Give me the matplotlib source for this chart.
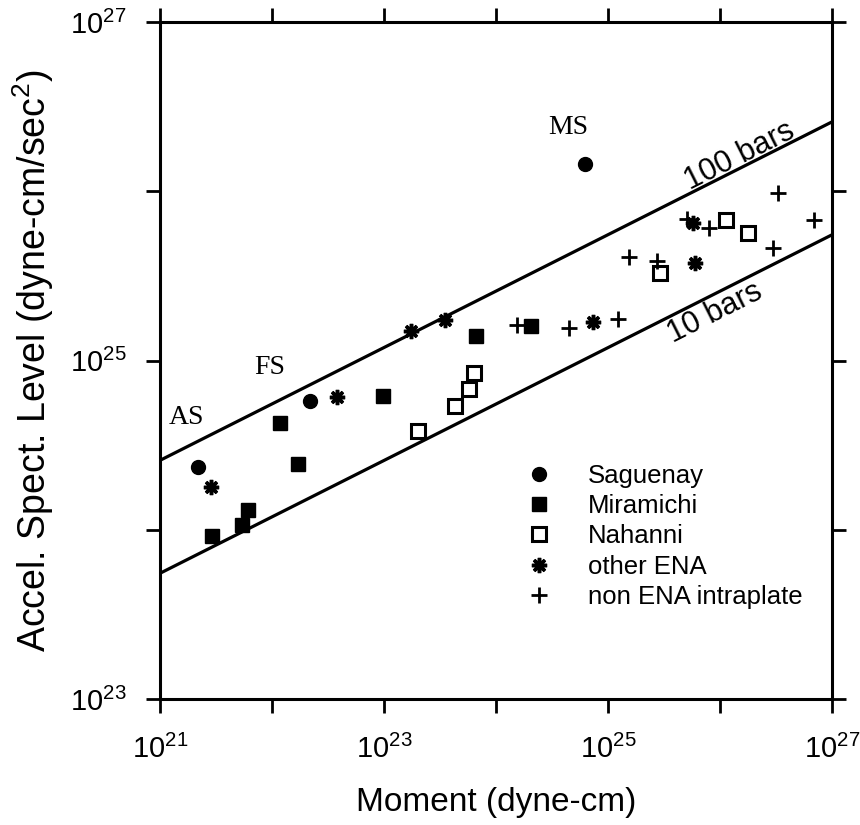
import matplotlib
matplotlib.use("Agg")
import matplotlib.pyplot as plt
from matplotlib.ticker import FixedLocator, FuncFormatter
import math

plt.rcParams['font.family'] = ['Liberation Sans', 'DejaVu Sans']
plt.rcParams['mathtext.fontset'] = 'custom'
plt.rcParams['mathtext.rm'] = 'Liberation Sans'
plt.rcParams['mathtext.it'] = 'Liberation Sans:italic'

# data (moment in dyne-cm, acceleration spectral level in dyne-cm/sec^2)
saguenay_M = [2.18e21, 2.18e22, 6.24e24]
saguenay_A = [2.35e24, 5.77e24, 1.45e26]

miramichi_M = [2.91e21, 5.40e21, 6.11e21, 1.18e22, 1.71e22, 9.79e22, 6.62e23, 2.06e24]
miramichi_A = [9.18e23, 1.07e24, 1.31e24, 4.28e24, 2.45e24, 6.17e24, 1.40e25, 1.60e25]

nahanni_M = [2.01e23, 4.31e23, 5.74e23, 6.37e23, 2.91e25, 1.13e26, 1.78e26]
nahanni_A = [3.83e24, 5.38e24, 6.79e24, 8.43e24, 3.29e25, 6.76e25, 5.66e25]

ena_M = [2.85e21, 3.80e22, 1.74e23, 3.51e23, 7.35e24, 5.98e25, 5.74e25]
ena_A = [1.79e24, 6.08e24, 1.49e25, 1.73e25, 1.69e25, 3.77e25, 6.49e25]

intra_M = [1.54e24, 4.49e24, 1.23e25, 1.54e25, 2.74e25, 5.07e25, 7.98e25, 3.30e26, 2.97e26, 6.90e26]
intra_A = [1.62e25, 1.56e25, 1.76e25, 4.09e25, 3.87e25, 6.85e25, 6.07e25, 9.77e25, 4.62e25, 6.76e25]

# constant stress-drop lines
line_M = [1e21, 1e27]
bars100_A = [2.57e24, 2.57e26]
bars10_A = [5.53e23, 5.53e25]

fig = plt.figure(figsize=(8.6, 8.25), dpi=100)
ax = fig.add_axes([160/860, 1-699/825, 672/860, 677/825])
ax.set_xscale('log')
ax.set_yscale('log')
ax.set_xlim(1e21, 1e27)
ax.set_ylim(1e23, 1e27)

ax.plot(line_M, bars100_A, color='black', lw=2.3)
ax.plot(line_M, bars10_A, color='black', lw=2.3)

ax.plot(saguenay_M, saguenay_A, 'o', color='black', ms=10, ls='none', label='Saguenay')
ax.plot(miramichi_M, miramichi_A, 's', color='black', ms=10, ls='none', label='Miramichi')
ax.plot(nahanni_M, nahanni_A, 's', mfc='white', mec='black', mew=2.2, ms=9.5, ls='none', label='Nahanni')
ax.plot(ena_M, ena_A, marker=(8, 2, 0), color='black', mew=2.5, ms=11, ls='none', label='other ENA')
ax.plot(intra_M, intra_A, '+', color='black', mew=2, ms=12, ls='none', label='non ENA intraplate')

serif = ['Liberation Serif', 'DejaVu Serif']
ax.text(1.71e21, 4.6e24, 'AS', family=serif, fontsize=20, ha='center', va='center')
ax.text(9.6e21, 9.1e24, 'FS', family=serif, fontsize=20, ha='center', va='center')
ax.text(4.4e24, 2.37e26, 'MS', family=serif, fontsize=20, ha='center', va='center')

ax.text(1.5e26, 1.62e26, '100 bars', fontsize=22, rotation=26.7, ha='center', va='center',
        rotation_mode='anchor')
ax.text(9.0e25, 1.9e25, '10 bars', fontsize=22, rotation=26.7, ha='center', va='center',
        rotation_mode='anchor')

ax.xaxis.set_major_locator(FixedLocator([10.0**k for k in range(21, 28)]))
ax.yaxis.set_major_locator(FixedLocator([10.0**k for k in range(23, 28)]))
ax.xaxis.set_minor_locator(FixedLocator([]))
ax.yaxis.set_minor_locator(FixedLocator([]))

def fmt(v, pos):
    e = int(round(math.log10(v)))
    if e % 2 == 0:
        return ''
    return r'$10^{%d}$' % e

ax.xaxis.set_major_formatter(FuncFormatter(fmt))
ax.yaxis.set_major_formatter(FuncFormatter(fmt))
ax.tick_params(which='both', direction='out', length=10, width=2, labelsize=21,
               top=True, right=True)
ax.tick_params(axis='x', pad=16)
ax.tick_params(axis='y', pad=14)
for s in ax.spines.values():
    s.set_linewidth(2.2)

ax.set_xlabel('Moment (dyne-cm)', fontsize=24, labelpad=16)
ax.set_ylabel(r'Accel. Spect. Level (dyne-cm/sec$^2$)', fontsize=27, labelpad=10)

ax.legend(loc='upper left', bbox_to_anchor=(0.53, 0.363), frameon=False, fontsize=18.5,
          handletextpad=1.4, labelspacing=0.25, borderaxespad=0, handlelength=1)

fig.savefig('out.png', dpi=100)
